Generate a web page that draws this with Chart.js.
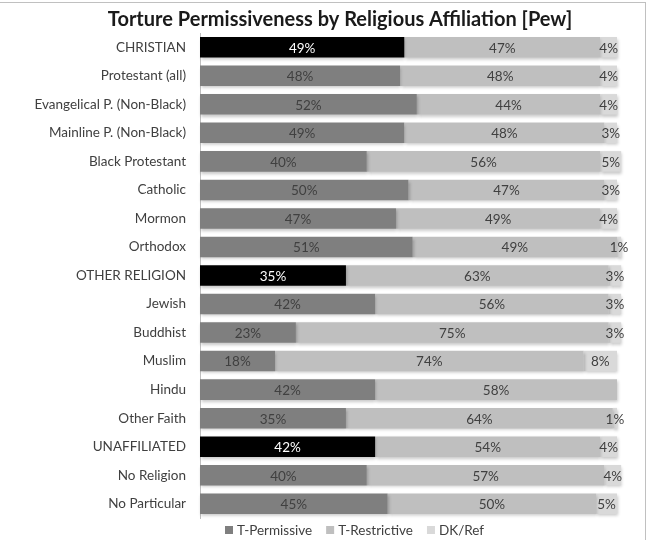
<!DOCTYPE html>
<html>
<head>
<meta charset="utf-8">
<script src="https://cdn.jsdelivr.net/npm/chart.js@4.4.0/dist/chart.umd.min.js"></script>
<style>
  html, body { margin: 0; padding: 0; background: #fff; }
  #wrap { position: relative; width: 650px; height: 540px; }
  #frame { position: absolute; left: 0; top: 2px; width: 646px; height: 538px;
           border-top: 1px solid #c0c0c0; border-right: 1px solid #c0c0c0; box-sizing: border-box; pointer-events: none; }
</style>
</head>
<body>
<div id="wrap">
  <canvas id="tortureChart" width="650" height="540"></canvas>
  <div id="frame"></div>
</div>
<script>
const chartTitle = 'Torture Permissiveness by Religious Affiliation [Pew]';
const categories = ['CHRISTIAN', 'Protestant (all)', 'Evangelical P. (Non-Black)', 'Mainline P. (Non-Black)',
  'Black Protestant', 'Catholic', 'Mormon', 'Orthodox', 'OTHER RELIGION', 'Jewish', 'Buddhist',
  'Muslim', 'Hindu', 'Other Faith', 'UNAFFILIATED', 'No Religion', 'No Particular'];
const permissive = [49, 48, 52, 49, 40, 50, 47, 51, 35, 42, 23, 18, 42, 35, 42, 40, 45];
const restrictive = [47, 48, 44, 48, 56, 47, 49, 49, 63, 56, 75, 74, 58, 64, 54, 57, 50];
const dkRef = [4, 4, 4, 3, 5, 3, 4, 1, 3, 3, 3, 8, 0, 1, 4, 4, 5];
const groupRows = ['CHRISTIAN', 'OTHER RELIGION', 'UNAFFILIATED'];
const seriesColors = ['#7f7f7f', '#bfbfbf', '#d9d9d9'];

const permColors = categories.map(c => groupRows.includes(c) ? '#000000' : seriesColors[0]);

// labels drawn in the middle of every segment
const segmentLabels = {
  id: 'segmentLabels',
  afterDatasetsDraw(chart) {
    const ctx = chart.ctx;
    ctx.save();
    ctx.font = '13.5px Lato';
    ctx.textAlign = 'center';
    ctx.textBaseline = 'middle';
    chart.data.datasets.forEach((ds, di) => {
      const meta = chart.getDatasetMeta(di);
      meta.data.forEach((bar, i) => {
        const v = ds.data[i];
        if (!v) return;
        const p = bar.getProps(['x', 'y', 'base'], true);
        const isBlack = di === 0 && groupRows.includes(categories[i]);
        ctx.fillStyle = isBlack ? '#ffffff' : '#404040';
        ctx.fillText(v + '%', (p.x + p.base) / 2, p.y + 1);
      });
    });
    ctx.restore();
  }
};

const barShadow = {
  id: 'barShadow',
  beforeDatasetsDraw(chart) {
    const ctx = chart.ctx;
    ctx.save();
    ctx.shadowColor = 'rgba(0,0,0,0.22)';
    ctx.shadowBlur = 3;
    ctx.shadowOffsetX = 1;
    ctx.shadowOffsetY = 2;
  },
  afterDatasetsDraw(chart) {
    chart.ctx.restore();
  }
};

// title and legend placed like the original (not centred on the canvas)
const titleAndLegend = {
  id: 'titleAndLegend',
  afterDraw(chart) {
    const ctx = chart.ctx;
    ctx.save();
    ctx.fillStyle = '#1a1a1a';
    ctx.font = 'bold 20px Lato';
    ctx.textAlign = 'center';
    ctx.textBaseline = 'middle';
    ctx.fillText(chartTitle, 340, 20);

    ctx.font = '13.5px Lato';
    ctx.textAlign = 'left';
    let x = 225;
    const y = 530;
    chart.data.datasets.forEach((ds, i) => {
      ctx.fillStyle = seriesColors[i];
      ctx.fillRect(x, y - 4, 8, 8);
      ctx.fillStyle = '#404040';
      ctx.fillText(ds.label, x + 12, y + 1);
      x += 12 + ctx.measureText(ds.label).width + 14;
    });
    ctx.restore();
  }
};

Chart.defaults.font.family = 'Lato';
Chart.defaults.color = '#404040';

new Chart(document.getElementById('tortureChart').getContext('2d'), {
  type: 'bar',
  data: {
    labels: categories,
    datasets: [
      { label: 'T-Permissive', data: permissive, backgroundColor: permColors },
      { label: 'T-Restrictive', data: restrictive, backgroundColor: seriesColors[1] },
      { label: 'DK/Ref', data: dkRef, backgroundColor: seriesColors[2] }
    ]
  },
  options: {
    indexAxis: 'y',
    responsive: false,
    animation: false,
    datasets: { bar: { categoryPercentage: 1, barPercentage: 0.72, clip: false } },
    layout: { padding: { left: 0, right: 33, top: 33, bottom: 22 } },
    scales: {
      x: { stacked: true, display: false, min: 0, max: 100 },
      y: {
        stacked: true,
        grid: { display: false },
        border: { display: true, color: '#bfbfbf' },
        ticks: { font: { size: 13.5 }, color: '#404040', padding: 6 },
        afterFit(scale) { scale.width = 200; }
      }
    },
    plugins: {
      title: { display: false },
      legend: { display: false },
      tooltip: { enabled: false }
    }
  },
  plugins: [barShadow, segmentLabels, titleAndLegend]
});
</script>
</body>
</html>
